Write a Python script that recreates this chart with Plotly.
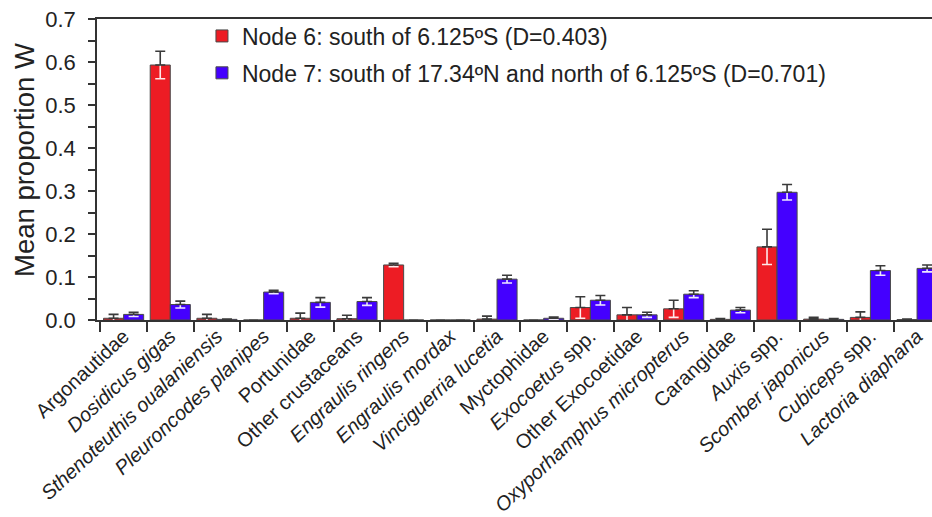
import plotly.graph_objects as go

categories = [
    "Argonautidae", "<i>Dosidicus gigas</i>", "<i>Sthenoteuthis oualaniensis</i>",
    "<i>Pleuroncodes planipes</i>", "Portunidae", "Other crustaceans",
    "<i>Engraulis ringens</i>", "<i>Engraulis mordax</i>", "<i>Vinciguerria lucetia</i>",
    "Myctophidae", "<i>Exocoetus</i> spp.", "Other Exocoetidae",
    "<i>Oxyporhamphus micropterus</i>", "Carangidae", "<i>Auxis</i> spp.",
    "<i>Scomber japonicus</i>", "<i>Cubiceps</i> spp.", "<i>Lactoria diaphana</i>",
]
node6_mean = [0.004, 0.593, 0.004, 0.0, 0.004, 0.003, 0.128, 0.0, 0.002,
              0.0, 0.029, 0.012, 0.026, 0.0015, 0.170, 0.002, 0.006, 0.001]
node6_err = [0.009, 0.032, 0.009, 0.0, 0.012, 0.008, 0.004, 0.0, 0.007,
             0.0, 0.025, 0.017, 0.020, 0.002, 0.041, 0.004, 0.013, 0.001]
node7_mean = [0.013, 0.036, 0.0015, 0.065, 0.041, 0.043, 0.0, 0.0, 0.095,
              0.004, 0.046, 0.012, 0.060, 0.023, 0.297, 0.0015, 0.115, 0.120]
node7_err = [0.005, 0.008, 0.001, 0.004, 0.011, 0.009, 0.0, 0.0, 0.009,
             0.003, 0.011, 0.006, 0.008, 0.006, 0.018, 0.002, 0.011, 0.008]

series_names = [
    "Node 6: south of 6.125ºS (D=0.403)",
    "Node 7: south of 17.34ºN and north of 6.125ºS (D=0.701)",
]
colors = ["#ED1C24", "#4400FF"]

FONT = "Liberation Sans, Arial, sans-serif"
TXT = "#222222"
AX = "#333333"

fig = go.Figure()
series = [(node6_mean, node6_err), (node7_mean, node7_err)]
for k, (means, errs) in enumerate(series):
    grp = f"g{k}"
    # main bar with light (white) symmetric error bar, visible inside the bar
    fig.add_trace(go.Bar(
        x=categories, y=means, name=series_names[k], offsetgroup=grp,
        legendgroup=grp,
        marker=dict(color=colors[k], line=dict(color="#4a4a4a", width=1)),
        error_y=dict(type="data", array=errs, symmetric=True,
                     color="rgba(255,255,255,0.9)", thickness=1.6, width=5),
    ))
for k, (means, errs) in enumerate(series):
    grp = f"g{k}"
    # transparent overlay carrying the dark upper error bar
    fig.add_trace(go.Bar(
        x=categories, y=means, offsetgroup=grp, showlegend=False,
        legendgroup=grp, hoverinfo="skip",
        marker=dict(color="rgba(0,0,0,0)", line=dict(width=0)),
        error_y=dict(type="data", array=errs, arrayminus=[0] * len(errs),
                     symmetric=False, color="#3a3a3a", thickness=1.6, width=5),
    ))

fig.update_layout(
    width=932, height=517,
    margin=dict(l=97, r=0, t=19, b=197, autoexpand=False),
    paper_bgcolor="white", plot_bgcolor="white",
    barmode="group", bargap=0.14, bargroupgap=0.0,
    font=dict(family=FONT, color=TXT),
    showlegend=True,
    legend=dict(
        x=0.1257, y=1.015, xanchor="left", yanchor="top",
        bgcolor="rgba(0,0,0,0)", font=dict(size=23, color=TXT, family=FONT),
        tracegroupgap=4, traceorder="grouped",
    ),
    xaxis=dict(
        type="category", range=[-0.57, 17.32],
        tickson="boundaries", ticks="outside", ticklen=10, tickwidth=1.5,
        tickcolor=AX, showline=True, linecolor=AX, linewidth=1.5, mirror=True,
        showgrid=False, zeroline=False, tickangle=-43, ticklabelstandoff=-5,
        tickfont=dict(size=20, color=TXT, family=FONT), automargin=False,
    ),
    yaxis=dict(
        range=[0, 0.7], dtick=0.1, tick0=0, tickformat=".1f",
        ticks="outside", ticklen=7, tickwidth=1.5, tickcolor=AX,
        minor=dict(dtick=0.05, tick0=0, ticks="outside", ticklen=7,
                   tickwidth=1.5, tickcolor=AX, showgrid=False),
        showline=True, linecolor=AX, linewidth=1.5, mirror=False,
        showgrid=False, zeroline=False, ticklabelstandoff=8,
        tickfont=dict(size=22, color=TXT, family=FONT), automargin=False,
    ),
    annotations=[dict(
        text="Mean proportion W", textangle=-90, xref="paper", yref="paper",
        x=-0.0862, y=0.5316, xanchor="center", yanchor="middle",
        showarrow=False, font=dict(size=27.5, color=TXT, family=FONT),
    )],
)

fig.write_html("out.html", config={"displayModeBar": False},
               post_script="document.body.style.margin='0';document.body.style.padding='0';")
